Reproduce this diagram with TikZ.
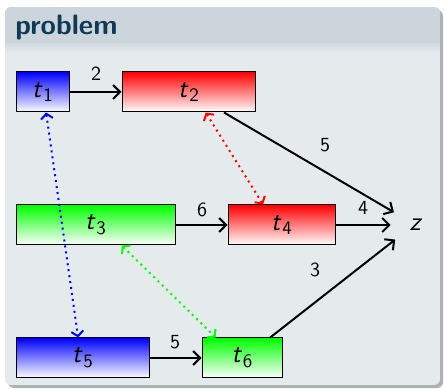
\documentclass[tikz,border=0pt]{standalone}
\usetikzlibrary{arrows.meta}
\definecolor{titlebg}{HTML}{CDD5DC}
\definecolor{bodybg}{HTML}{E5EAED}
\definecolor{titlefg}{HTML}{0F3A55}
\definecolor{shadowc}{HTML}{AEB2B5}
\newcommand\tsub[1]{\textit{t}\kern0.03em\raisebox{-0.4ex}{\fontsize{9.5}{11}\selectfont #1}}
\tikzset{
  task/.style={draw=black, line width=0.5pt, minimum height=20pt, inner sep=0pt,
    bottom color=white, font=\sffamily\fontsize{13}{15}\selectfont},
  lbl/.style={font=\sffamily\fontsize{10}{12}\selectfont, inner sep=0pt},
  flow/.style={line width=1pt, arrows={-Straight Barb[length=3.5pt,width=7pt]}},
  dotl/.style={dotted, line width=1pt,
    arrows={Straight Barb[length=2.5pt,width=6pt]-Straight Barb[length=2.5pt,width=6pt]}}
}
\begin{document}
\begin{tikzpicture}[x=0.5pt,y=-0.5pt]
\useasboundingbox[fill=white] (0,0) rectangle (444,389);
% block
\fill[shadowc, rounded corners=3pt] (8,10) rectangle (443,388);
\begin{scope}
\clip[rounded corners=3pt] (5,7) rectangle (440,385);
\fill[bodybg] (5,7) rectangle (440,385);
\fill[titlebg] (5,7) rectangle (440,44);
\shade[top color=titlebg!70!bodybg, bottom color=bodybg] (5,44) rectangle (440,53);
\end{scope}
\node[anchor=base west, inner sep=0pt, text=titlefg, font=\sffamily\bfseries\fontsize{14}{16}\selectfont] (title) at (15,35) {problem};
% tasks
\node[task, top color=blue, minimum width=26.5pt] (t1) at (42.5,92) {\tsub{1}};
\node[task, top color=red, minimum width=66.5pt] (t2) at (188.5,92) {\tsub{2}};
\node[task, top color=green, minimum width=79.5pt] (t3) at (95.5,225) {\tsub{3}};
\node[task, top color=red, minimum width=53.5pt] (t4) at (281.5,225) {\tsub{4}};
\node[task, top color=blue, minimum width=66.5pt] (t5) at (82.5,358) {\tsub{5}};
\node[task, top color=green, minimum width=40pt] (t6) at (242,358) {\tsub{6}};
\node[circle, minimum size=25pt, inner sep=0pt, font=\sffamily\fontsize{13}{15}\selectfont] (z) at (416,225) {\textit{z}};
% flows
\draw[flow] (t1) -- (t2);
\draw[flow] (t2.-30) -- (z.150);
\draw[flow] (t3) -- (t4);
\draw[flow] (t4) -- (z);
\draw[flow] (t5) -- (t6);
\draw[flow] (t6.36.5) -- (z.215);
% weights
\node[lbl] (w12) at (96,74) {2};
\node[lbl] (w2z) at (325,145) {5};
\node[lbl] (w34) at (202,210) {6};
\node[lbl] (w4z) at (363,208) {4};
\node[lbl] (w6z) at (315,270) {3};
\node[lbl] (w56) at (175,342) {5};
% disjunctive
\draw[dotl, blue] (t1.-80) -- (t5.102.7);
\draw[dotl, red] (t2.-50.5) -- (t4.132.8);
\draw[dotl, green] (t3.-38) -- (t6.142.4);
\end{tikzpicture}
\end{document}
